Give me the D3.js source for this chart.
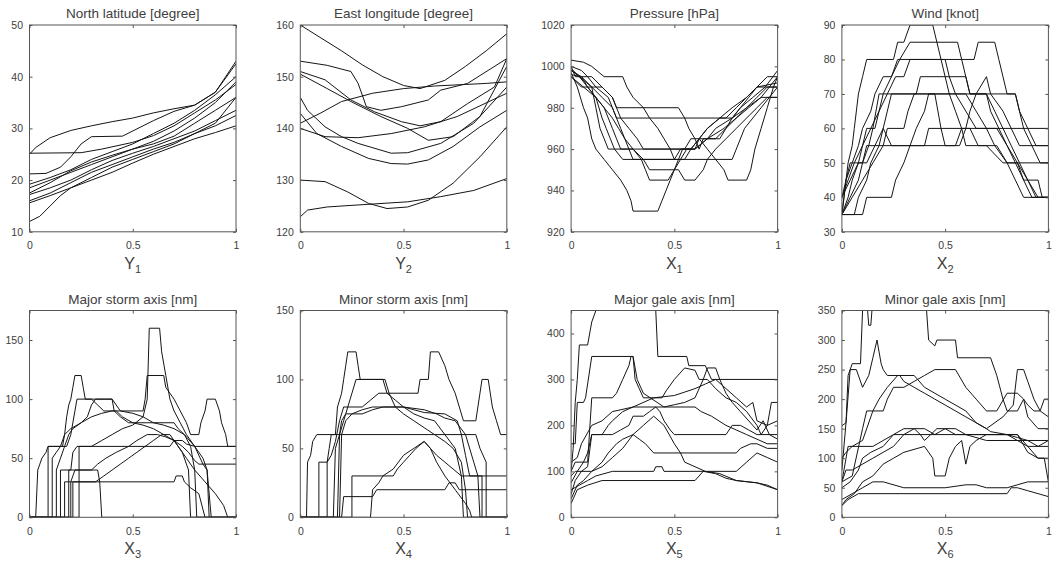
<!DOCTYPE html>
<html><head><meta charset="utf-8">
<script src="https://cdn.jsdelivr.net/npm/d3@7"></script>
<style>
body{margin:0;background:#fff}
svg{display:block}
text{font-family:"Liberation Sans",Arial,Helvetica,sans-serif}
</style>
</head><body>
<svg id="c" width="1061" height="567"></svg>
<script>
// ---------- labels & axes ----------
const titles = ["North latitude [degree]","East longitude [degree]","Pressure [hPa]","Wind [knot]",
                "Major storm axis [nm]","Minor storm axis [nm]","Major gale axis [nm]","Minor gale axis [nm]"];
const xLabels = [["Y","1"],["Y","2"],["X","1"],["X","2"],["X","3"],["X","4"],["X","5"],["X","6"]];
const xTicks = [0, 0.5, 1];
const yDomains = [[10,50],[120,160],[920,1020],[30,90],[0,175],[0,150],[0,450],[0,350]];
const yTicks = [[10,20,30,40,50],[120,130,140,150,160],[920,940,960,980,1000,1020],[30,40,50,60,70,80,90],
                [0,50,100,150],[0,50,100,150],[0,100,200,300,400],[0,50,100,150,200,250,300,350]];

// ---------- data: each curve is a list of [x, value] ----------
const latitude = [
 [[0,25],[0.03,26.3],[0.1,28.2],[0.2,29.6],[0.3,30.5],[0.4,31.3],[0.5,32],[0.6,33],[0.7,33.8],[0.8,34.5],[0.9,37],[1,42.5]],
 [[0,25.2],[0.25,25.3],[0.35,26],[0.5,27.3],[0.6,28.6],[0.7,30.5],[0.8,33],[0.9,35.5],[1,38.5]],
 [[0,21.2],[0.08,21.3],[0.15,22.5],[0.2,24.5],[0.25,27],[0.3,28.4],[0.45,28.5],[0.5,29.5],[0.6,31.5],[0.7,33.3],[0.8,34.5],[0.9,37],[1,43]],
 [[0,19.2],[0.1,20.5],[0.2,22],[0.3,24],[0.4,25.5],[0.5,27],[0.6,29],[0.7,31],[0.8,33.5],[0.9,36.5],[1,40]],
 [[0,18.5],[0.1,20],[0.2,21.5],[0.3,23],[0.4,24.5],[0.5,26],[0.6,27.5],[0.7,29.5],[0.8,32],[0.9,35],[1,39]],
 [[0,17.5],[0.1,19.5],[0.2,21.8],[0.3,23.5],[0.4,24.8],[0.5,26],[0.6,27],[0.7,28.5],[0.8,31],[0.9,33.5],[1,36]],
 [[0,17.2],[0.1,18.5],[0.2,20],[0.3,22],[0.4,23.8],[0.5,25.2],[0.6,26.5],[0.7,28],[0.8,29.5],[0.9,31.5],[1,33.5]],
 [[0,16],[0.1,17.5],[0.2,19.5],[0.3,21.5],[0.4,23],[0.5,24.5],[0.6,26],[0.7,27.3],[0.8,29],[0.9,30.5],[1,32.5]],
 [[0,15.6],[0.1,17],[0.2,18.5],[0.3,20],[0.4,21.5],[0.5,23.3],[0.6,25],[0.7,26.5],[0.8,28],[0.9,29.2],[1,30.5]],
 [[0,12],[0.05,13],[0.1,15],[0.15,17],[0.2,18.5],[0.3,20.5],[0.4,22.5],[0.5,24],[0.6,25.5],[0.7,27],[0.8,29],[0.9,31],[1,36]]
];
const longitude = [
 [[0,160],[0.1,157.5],[0.2,155],[0.3,152.3],[0.4,150],[0.5,148.3],[0.58,147.7],[0.7,149.3],[0.8,152],[0.9,155],[1,158.3]],
 [[0,153],[0.13,152.2],[0.245,151],[0.28,148.7],[0.32,144.2],[0.39,143.5],[0.49,144.2],[0.62,145.5],[0.68,147.4],[0.81,148.7],[1,153.5]],
 [[0,151],[0.12,149.4],[0.245,145.5],[0.36,143.2],[0.49,141.3],[0.58,140.5],[0.68,141.3],[0.81,144.8],[0.94,148],[1,153.5]],
 [[0,150.5],[0.13,147.7],[0.245,145.2],[0.39,142.3],[0.52,140],[0.62,137.7],[0.74,138.4],[0.87,142.3],[1,152]],
 [[0,146],[0.035,143.5],[0.12,140.3],[0.2,138.4],[0.28,137.1],[0.44,135.2],[0.52,135.3],[0.68,137.1],[0.84,141],[1,148]],
 [[0,142.9],[0.08,139],[0.2,136.5],[0.33,134.2],[0.44,133.2],[0.52,133.1],[0.62,133.9],[0.74,136.5],[0.87,140.3],[1,143.5]],
 [[0,141],[0.1,143],[0.2,145.2],[0.35,146.8],[0.5,147.7],[0.65,148.2],[0.8,148.5],[0.9,148.7],[1,149]],
 [[0,140],[0.12,138.4],[0.28,138.2],[0.44,139],[0.6,140.3],[0.76,142.3],[1,146.8]],
 [[0,130],[0.12,129.7],[0.23,127.7],[0.33,125.5],[0.42,124.5],[0.52,124.8],[0.62,126.1],[0.74,129.4],[0.87,134.5],[1,140.3]],
 [[0,122.9],[0.035,124.2],[0.13,124.8],[0.36,125.4],[0.52,125.8],[0.68,126.8],[0.84,128],[1,130.3]]
];
const pressure = [
 [[0,1000],[0.02,995],[0.1,995],[0.15,990],[0.2,985],[0.22,980],[0.52,980],[0.55,975],[0.57,970],[0.6,965],[0.62,960],[0.64,965],[0.72,965],[0.75,970],[0.78,975],[0.82,980],[0.86,985],[0.9,990],[1,990]],
 [[0,998],[0.05,995],[0.1,990],[0.15,985],[0.2,980],[0.22,975],[0.75,975],[0.8,980],[0.85,985],[0.9,990],[0.95,995],[1,995]],
 [[0,996],[0.05,995],[0.08,990],[0.12,985],[0.16,980],[0.18,975],[0.2,970],[0.22,965],[0.24,960],[0.55,960],[0.58,965],[0.62,965],[0.66,970],[0.72,975],[0.78,980],[0.85,985],[0.9,990],[1,992]],
 [[0,995],[0.06,990],[0.12,985],[0.15,975],[0.17,970],[0.19,965],[0.21,960],[0.25,955],[0.78,955],[0.8,960],[0.84,970],[0.88,975],[0.92,980],[0.96,985],[1,990]],
 [[0,998],[0.04,995],[0.1,990],[0.12,980],[0.14,970],[0.16,965],[0.18,960],[0.3,960],[0.35,955],[0.38,950],[0.52,950],[0.55,945],[0.6,945],[0.64,950],[0.66,955],[0.7,960],[0.75,965],[0.8,970],[0.85,975],[0.9,980],[0.95,985],[1,985]],
 [[0,997],[0.03,990],[0.06,980],[0.08,975],[0.1,965],[0.12,960],[0.16,955],[0.2,950],[0.24,945],[0.27,940],[0.29,935],[0.3,930],[0.42,930],[0.44,935],[0.46,940],[0.48,945],[0.5,950],[0.53,955],[0.56,960],[0.6,960],[0.66,965],[0.74,970],[0.8,975],[0.86,980],[0.92,985],[1,995]],
 [[0,1000],[0.05,998],[0.08,995],[0.12,990],[0.18,985],[0.2,980],[0.24,970],[0.26,965],[0.3,960],[0.34,955],[0.36,950],[0.38,945],[0.47,945],[0.5,950],[0.52,955],[0.54,960],[0.58,960],[0.62,965],[0.7,965],[0.75,970],[0.8,975],[0.85,980],[0.92,985],[1,985]],
 [[0,1003],[0.06,1002],[0.1,1000],[0.16,995],[0.25,995],[0.27,990],[0.3,985],[0.35,980],[0.38,975],[0.42,970],[0.45,965],[0.48,960],[0.5,955],[0.55,955],[0.58,960],[0.62,965],[0.66,960],[0.7,955],[0.74,950],[0.76,945],[0.85,945],[0.87,950],[0.89,960],[0.92,970],[0.95,980],[0.98,990],[1,995]],
 [[0,999],[0.04,995],[0.08,990],[0.12,985],[0.16,980],[0.2,975],[0.23,970],[0.26,965],[0.28,960],[0.3,955],[0.5,955],[0.53,960],[0.6,960],[0.62,965],[0.66,970],[0.72,975],[0.78,975],[0.82,980],[0.88,985],[0.94,990],[1,998]],
 [[0,995],[0.05,990],[0.15,990],[0.2,985],[0.24,975],[0.28,970],[0.32,965],[0.35,960],[0.6,960],[0.66,965],[0.7,970],[0.78,975],[0.85,980],[0.9,985],[0.95,990],[1,990]]
];
const wind = [
 [[0,35],[0.01,40],[0.03,50],[0.05,55],[0.06,60],[0.08,70],[0.1,75],[0.12,80],[0.25,80],[0.27,85],[0.3,85],[0.33,90],[0.44,90],[0.46,85],[0.48,80],[0.5,75],[0.52,70],[0.55,65],[0.58,60],[0.62,60],[0.66,55],[0.75,55],[0.8,50],[0.85,50],[0.88,45],[0.95,45],[0.97,40],[1,40]],
 [[0,35],[0.03,40],[0.05,45],[0.08,50],[0.1,55],[0.12,60],[0.16,60],[0.18,65],[0.2,70],[0.24,75],[0.28,80],[0.33,85],[0.56,85],[0.58,80],[0.6,75],[0.62,70],[0.7,70],[0.74,65],[0.78,60],[0.82,55],[0.86,50],[0.9,45],[0.95,40],[1,40]],
 [[0,40],[0.02,45],[0.05,50],[0.08,55],[0.1,60],[0.14,65],[0.16,70],[0.2,75],[0.24,75],[0.27,80],[0.64,80],[0.66,85],[0.74,85],[0.76,80],[0.78,75],[0.8,70],[0.84,70],[0.86,65],[0.9,60],[0.94,55],[1,55]],
 [[0,35],[0.04,40],[0.08,45],[0.1,50],[0.13,55],[0.15,60],[0.18,70],[0.84,70],[0.86,65],[0.88,60],[0.92,55],[0.96,50],[1,50]],
 [[0,35],[0.06,35],[0.08,40],[0.12,45],[0.14,50],[0.18,55],[0.2,60],[0.22,65],[0.24,70],[0.36,70],[0.38,75],[0.6,75],[0.62,70],[0.7,70],[0.72,65],[0.76,60],[0.8,55],[0.84,50],[0.88,45],[0.92,40],[1,40]],
 [[0,35],[0.05,40],[0.1,45],[0.15,50],[0.2,55],[0.4,55],[0.42,60],[1,60]],
 [[0,40],[0.04,45],[0.08,50],[0.12,50],[0.16,55],[0.2,60],[0.24,55],[0.57,55],[0.6,60],[0.62,65],[0.65,70],[0.7,75],[0.72,70],[0.78,65],[0.82,60],[0.86,55],[1,55]],
 [[0,35],[0.1,35],[0.12,40],[0.24,40],[0.26,45],[0.3,50],[0.33,55],[0.36,60],[0.4,65],[0.42,70],[0.6,70],[0.65,65],[0.7,60],[0.74,55],[0.8,50],[0.84,45],[0.88,40],[1,40]],
 [[0,40],[0.03,45],[0.06,50],[0.1,55],[0.14,60],[0.18,65],[0.22,70],[0.26,75],[0.3,75],[0.33,80],[0.5,80],[0.52,75],[0.55,70],[0.6,65],[0.65,60],[0.75,60],[0.8,55],[0.85,50],[0.9,45],[0.94,40],[1,40]],
 [[0,35],[0.02,45],[0.04,50],[0.1,50],[0.12,55],[0.2,55],[0.22,60],[0.3,60],[0.32,65],[0.35,70],[0.45,70],[0.48,60],[0.5,55],[0.55,55],[0.58,60],[0.6,55],[0.7,55],[0.78,50],[1,50]]
];
const majorStorm = [
 [[0,0],[0.03,0],[0.04,40],[0.05,45],[0.06,50],[0.08,55],[0.09,60],[0.16,60],[0.17,70],[0.18,85],[0.19,95],[0.2,100],[0.21,110],[0.22,120],[0.25,120],[0.26,110],[0.27,100],[0.3,100],[0.33,95],[0.36,90],[0.42,90],[0.45,85],[0.5,80],[0.55,78],[0.6,75],[0.65,70],[0.7,65],[0.74,55],[0.77,40],[0.78,0],[1,0]],
 [[0,0],[0.09,0],[0.09,60],[0.18,60],[0.2,70],[0.22,90],[0.23,100],[0.4,100],[0.41,90],[0.44,85],[0.48,80],[0.7,80],[0.72,75],[0.75,70],[0.78,60],[0.8,40],[0.81,0],[1,0]],
 [[0,0],[0.11,0],[0.11,50],[0.13,55],[0.15,60],[0.17,70],[0.2,75],[0.25,80],[0.3,85],[0.35,88],[0.4,90],[0.55,90],[0.56,100],[0.57,120],[0.65,120],[0.66,110],[0.68,105],[0.7,100],[0.73,90],[0.76,80],[0.78,70],[0.82,70],[0.83,80],[0.85,90],[0.86,100],[0.9,100],[0.92,90],[0.93,80],[0.95,70],[0.96,60],[1,60]],
 [[0,0],[0.15,0],[0.15,40],[0.2,40],[0.21,55],[0.23,60],[0.3,60],[0.35,65],[0.4,70],[0.45,75],[0.5,78],[0.55,85],[0.57,100],[0.58,160],[0.63,160],[0.64,140],[0.66,120],[0.68,100],[0.7,90],[0.73,80],[0.76,70],[0.8,60],[0.84,45],[0.86,40],[0.88,0],[1,0]],
 [[0,0],[0.17,0],[0.17,30],[0.7,30],[0.71,35],[0.74,35],[0.75,30],[0.78,25],[0.82,20],[0.85,0],[1,0]],
 [[0,0],[0.19,0],[0.19,40],[0.3,40],[0.33,45],[0.37,50],[0.42,55],[0.48,60],[0.52,65],[0.57,70],[0.62,70],[0.66,68],[0.7,65],[0.74,60],[0.77,55],[0.8,48],[0.82,45],[1,45]],
 [[0,0],[0.24,0],[0.24,60],[0.68,60],[0.7,65],[0.74,65],[0.76,62],[0.8,60],[1,60]],
 [[0,0],[0.2,0],[0.2,30],[0.22,40],[0.33,40],[0.34,30],[0.35,0],[1,0]],
 [[0,0],[0.13,0],[0.13,40],[0.15,50],[0.17,60],[0.19,70],[0.21,75],[0.25,80],[0.28,85],[0.3,95],[0.32,100],[0.4,100],[0.44,90],[0.5,88],[0.55,85],[0.6,80],[0.65,78],[0.7,75],[0.75,70],[0.8,60],[0.84,50],[0.86,40],[0.87,0],[1,0]],
 [[0,0],[0.21,0],[0.21,30],[0.32,30],[0.36,35],[0.4,40],[0.44,45],[0.48,50],[0.52,55],[0.56,60],[0.6,65],[0.64,70],[0.68,70],[0.72,60],[0.76,50],[0.8,40],[0.85,30],[0.9,20],[0.94,10],[0.96,0],[1,0]]
];
const minorStorm = [
 [[0,0],[0.03,0],[0.035,40],[0.05,45],[0.06,55],[0.08,60],[0.17,60],[0.18,80],[0.2,90],[0.21,100],[0.22,110],[0.23,120],[0.27,120],[0.28,110],[0.29,100],[0.4,100],[0.42,90],[0.46,85],[0.5,80],[0.55,75],[0.6,72],[0.65,70],[0.7,60],[0.75,50],[0.78,30],[0.79,0],[1,0]],
 [[0,0],[0.09,0],[0.09,40],[0.13,40],[0.14,50],[0.15,60],[0.85,60],[0.87,50],[0.9,40],[0.9,0],[1,0]],
 [[0,0],[0.13,0],[0.13,40],[0.15,45],[0.17,55],[0.19,70],[0.21,80],[0.3,80],[0.34,85],[0.38,90],[0.57,90],[0.58,100],[0.62,100],[0.63,120],[0.67,120],[0.7,110],[0.72,100],[0.75,90],[0.77,80],[0.79,70],[0.85,70],[0.87,90],[0.88,100],[0.91,100],[0.93,80],[0.95,70],[0.97,60],[1,60]],
 [[0,0],[0.18,0],[0.19,60],[0.21,70],[0.23,80],[0.25,90],[0.27,100],[0.41,100],[0.43,90],[0.46,80],[0.5,75],[0.55,70],[0.6,65],[0.65,60],[0.7,55],[0.74,50],[0.78,40],[0.8,20],[0.81,0],[1,0]],
 [[0,0],[0.19,0],[0.2,60],[0.22,70],[0.25,75],[0.3,78],[0.35,80],[0.5,80],[0.55,78],[0.6,76],[0.7,75],[0.76,70],[0.78,60],[0.8,45],[0.82,30],[1,30]],
 [[0,0],[0.25,0],[0.25,30],[0.45,30],[0.47,35],[0.5,40],[0.53,45],[0.56,50],[0.6,55],[0.63,50],[0.66,45],[0.7,40],[0.74,35],[0.78,30],[0.88,30],[0.88,0],[1,0]],
 [[0,0],[0.2,0],[0.21,15],[0.35,15],[0.37,20],[0.7,20],[0.72,25],[0.75,25],[0.77,20],[1,20]],
 [[0,0],[0.34,0],[0.35,20],[0.38,25],[0.4,30],[0.45,35],[0.5,45],[0.55,50],[0.6,55],[0.63,50],[0.66,40],[0.7,30],[0.75,20],[0.8,10],[0.82,5],[0.83,0],[1,0]],
 [[0,0],[0.16,0],[0.17,50],[0.19,60],[0.2,70],[0.22,75],[0.3,75],[0.35,78],[0.4,80],[0.5,80],[0.6,78],[0.66,75],[0.7,72],[0.75,70],[0.8,60],[0.84,40],[0.86,30],[0.87,0],[1,0]]
];
const majorGale = [
 [[0,100],[0.01,150],[0.02,250],[0.03,300],[0.04,375],[0.08,375],[0.1,425],[0.12,450],[0.2,470],[0.3,480],[0.4,470],[0.41,450],[0.42,350],[0.56,350],[0.57,330],[0.65,330],[0.68,300],[1,300]],
 [[0,160],[0.02,160],[0.03,250],[0.06,250],[0.07,260],[0.1,350],[0.3,350],[0.31,300],[0.33,280],[0.35,260],[0.44,260],[0.46,275],[0.5,300],[0.55,325],[0.6,320],[0.62,300],[0.66,300],[0.7,280],[0.75,260],[0.8,250],[0.85,230],[0.9,200],[0.92,180],[0.95,200],[0.97,250],[1,250]],
 [[0,100],[0.02,120],[0.08,120],[0.1,260],[0.2,260],[0.22,270],[0.25,300],[0.28,330],[0.29,350],[0.3,350],[0.32,300],[0.35,270],[0.45,240],[0.5,245],[0.55,250],[0.6,260],[0.64,300],[0.66,325],[0.7,325],[0.72,300],[0.75,270],[0.78,250],[0.82,230],[0.88,200],[0.9,190],[0.93,210],[0.96,180],[1,170]],
 [[0,75],[0.03,100],[0.06,120],[0.08,140],[0.1,180],[0.15,180],[0.18,200],[0.2,210],[0.25,230],[0.3,240],[0.6,240],[0.63,230],[0.68,220],[0.75,200],[0.8,190],[0.85,180],[0.9,170],[0.95,160],[1,160]],
 [[0,50],[0.02,80],[0.05,100],[0.08,110],[0.1,180],[0.2,180],[0.24,190],[0.28,200],[0.3,220],[0.35,220],[0.38,230],[0.41,240],[0.43,230],[0.45,210],[0.48,190],[0.5,180],[0.75,180],[0.78,200],[0.82,200],[0.86,190],[0.9,180],[1,180]],
 [[0,40],[0.03,70],[0.06,80],[0.1,100],[0.15,120],[0.18,140],[0.22,160],[0.25,170],[0.3,180],[0.33,170],[0.36,160],[0.4,140],[0.8,140],[0.82,150],[0.87,160],[0.9,160],[0.95,150],[1,150]],
 [[0,60],[0.04,70],[0.08,80],[0.12,90],[0.2,100],[0.4,100],[0.41,110],[0.44,110],[0.45,100],[0.8,100],[0.85,120],[0.9,140],[0.95,130],[1,120]],
 [[0,30],[0.03,60],[0.08,70],[0.15,80],[0.6,80],[0.64,100],[0.7,95],[0.75,85],[0.8,80],[0.9,75],[0.95,70],[1,60]],
 [[0,90],[0.02,100],[0.1,100],[0.15,110],[0.2,130],[0.25,150],[0.3,180],[0.35,200],[0.4,220],[0.45,200],[0.5,160],[0.53,140],[0.55,120],[0.6,110],[0.65,100],[0.72,95],[0.8,80],[0.9,75],[1,60]],
 [[0,120],[0.03,130],[0.05,160],[0.1,200],[0.15,210],[0.2,230],[0.3,240],[0.4,260],[0.5,265],[0.6,280],[0.65,290],[0.7,300],[0.75,280],[0.8,260],[0.85,240],[0.88,250],[0.9,210],[0.95,200],[1,210]]
];
const minorGale = [
 [[0,80],[0.02,160],[0.04,250],[0.05,260],[0.09,260],[0.1,350],[0.12,370],[0.13,325],[0.14,325],[0.15,370],[0.2,400],[0.3,400],[0.38,380],[0.41,350],[0.42,300],[0.45,290],[0.46,300],[0.55,300],[0.56,270],[0.72,270],[0.75,240],[0.78,200],[0.8,180],[0.85,180],[0.88,200],[0.9,190],[0.93,180],[0.96,180],[0.98,200],[1,200]],
 [[0,155],[0.02,160],[0.03,240],[0.04,250],[0.07,250],[0.1,220],[0.13,240],[0.15,270],[0.17,300],[0.19,260],[0.2,250],[0.22,240],[0.28,240],[0.3,230],[0.35,220],[0.4,210],[0.45,200],[0.5,190],[0.55,180],[0.6,170],[0.65,160],[0.7,150],[0.72,145],[0.8,140],[0.85,135],[0.9,130],[1,130]],
 [[0,60],[0.05,70],[0.1,150],[0.12,180],[0.2,180],[0.22,200],[0.25,220],[0.3,220],[0.35,230],[0.4,240],[0.45,250],[0.55,250],[0.6,220],[0.65,200],[0.7,180],[0.75,180],[0.8,210],[0.85,210],[0.88,200],[0.9,170],[0.95,150],[1,150]],
 [[0,100],[0.02,110],[0.05,120],[0.1,130],[0.15,180],[0.18,200],[0.22,220],[0.27,240],[0.35,240],[0.4,220],[0.45,210],[0.5,200],[0.6,180],[0.65,160],[0.7,150],[0.78,170],[0.83,190],[0.85,250],[0.88,250],[0.9,230],[0.93,200],[0.96,180],[1,170]],
 [[0,50],[0.04,60],[0.08,80],[0.1,100],[0.14,110],[0.2,120],[0.25,140],[0.3,150],[0.35,150],[0.38,140],[0.4,130],[0.43,140],[0.46,150],[0.5,150],[0.55,140],[0.85,140],[0.9,110],[0.95,100],[1,100]],
 [[0,20],[0.02,30],[0.06,40],[0.1,60],[0.15,70],[0.2,90],[0.25,100],[0.3,110],[0.4,120],[0.44,100],[0.45,70],[0.5,70],[0.52,100],[0.55,120],[0.58,130],[0.6,90],[0.62,120],[0.65,130],[0.7,140],[0.85,140],[0.9,120],[1,120]],
 [[0,30],[0.05,40],[0.1,50],[0.15,60],[0.2,60],[0.3,50],[0.5,50],[0.6,55],[0.65,55],[0.7,50],[0.8,50],[0.85,55],[0.9,60],[1,60]],
 [[0,20],[0.03,30],[0.08,40],[0.8,40],[0.82,50],[0.85,50],[0.9,45],[0.95,40],[1,35]],
 [[0,60],[0.03,120],[0.15,120],[0.2,130],[0.25,140],[0.8,140],[0.85,130],[0.9,120],[0.95,100],[0.98,100],[1,60]],
 [[0,60],[0.02,80],[0.05,80],[0.1,90],[0.15,100],[0.2,110],[0.25,120],[0.3,140],[0.35,150],[0.4,150],[0.45,140],[0.5,150],[0.55,150],[0.6,140],[0.7,130],[0.9,130],[0.95,120],[1,130]]
];
const panelCurves = [latitude, longitude, pressure, wind, majorStorm, minorStorm, majorGale, minorGale];

// ---------- drawing ----------
const svg = d3.select("#c");
const pw = 206.5, ph = 206.8;
const lefts = [29.5, 300.3, 571.1, 841.9], tops = [25, 310.5];
const axisColor = "#555", textColor = "#404040";

panelCurves.forEach((curves, i) => {
  const col = i % 4, row = Math.floor(i / 4);
  const g = svg.append("g").attr("transform", `translate(${lefts[col]},${tops[row]})`);
  const x = d3.scaleLinear().domain([0, 1]).range([0, pw]);
  const y = d3.scaleLinear().domain(yDomains[i]).range([ph, 0]);

  g.append("clipPath").attr("id", "clip" + i)
    .append("rect").attr("width", pw).attr("height", ph);

  const line = d3.line().x(d => x(d[0])).y(d => y(d[1]));
  g.append("g").attr("clip-path", `url(#clip${i})`)
    .selectAll("path").data(curves).join("path")
    .attr("d", line).attr("fill", "none")
    .attr("stroke", "#151515").attr("stroke-width", 1)
    .attr("stroke-linejoin", "miter");

  const styleAxis = sel => {
    sel.attr("color", axisColor);
    sel.selectAll("text").attr("fill", textColor).style("font-size", "10.5px");
    sel.select(".domain").remove();
  };
  g.append("g").attr("transform", `translate(0,${ph})`)
    .call(d3.axisBottom(x).tickValues(xTicks).tickSize(-3).tickPadding(10).tickFormat(d => String(d)))
    .call(styleAxis);
  g.append("g")
    .call(d3.axisTop(x).tickValues(xTicks).tickSize(-3).tickFormat(""))
    .call(styleAxis);
  g.append("g")
    .call(d3.axisLeft(y).tickValues(yTicks[i]).tickSize(-3).tickPadding(6.5).tickFormat(d => String(d)))
    .call(styleAxis);
  g.append("g").attr("transform", `translate(${pw},0)`)
    .call(d3.axisRight(y).tickValues(yTicks[i]).tickSize(-3).tickFormat(""))
    .call(styleAxis);

  g.append("rect").attr("width", pw).attr("height", ph)
    .attr("fill", "none").attr("stroke", axisColor).attr("stroke-width", 1);

  g.append("text").attr("x", pw / 2).attr("y", -6.7)
    .attr("text-anchor", "middle").attr("fill", textColor)
    .style("font-size", "13.5px").text(titles[i]);

  const xl = g.append("text").attr("x", pw / 2).attr("y", ph + 37)
    .attr("text-anchor", "middle").attr("fill", textColor).style("font-size", "16px");
  xl.append("tspan").text(xLabels[i][0]);
  xl.append("tspan").attr("dy", 4).style("font-size", "11px").text(xLabels[i][1]);
});
</script>
</body></html>
